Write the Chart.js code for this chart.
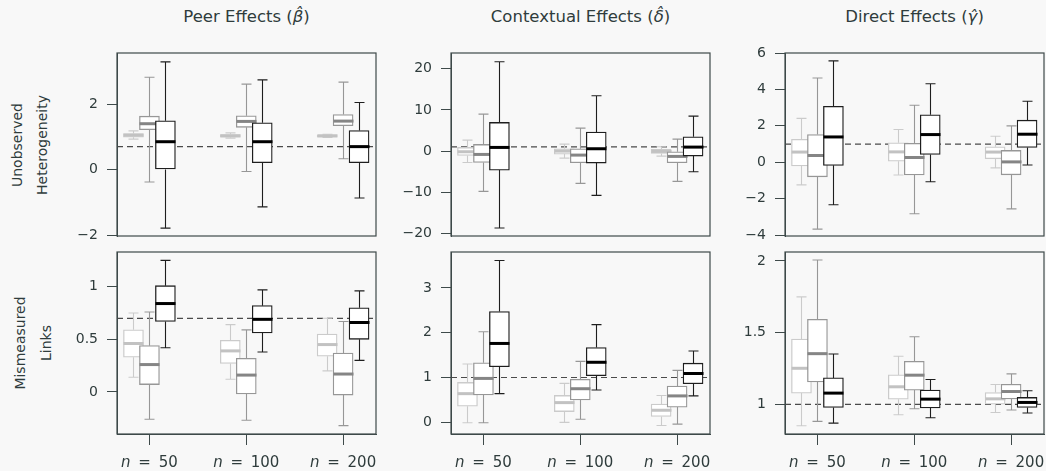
<!DOCTYPE html>
<html>
<head>
<meta charset="utf-8">
<script src="https://cdn.jsdelivr.net/npm/chart.js@4.4.0/dist/chart.umd.min.js"></script>
<style>
  body {
    margin: 0;
    width: 1046px;
    height: 471px;
    overflow: hidden;
    position: relative;
    background: #f8f8f8;
    color: #2f3c3c;
    font-family: "DejaVu Sans", sans-serif;
  }
  canvas { position: absolute; }
  .col-title {
    position: absolute;
    top: 7px;
    width: 259px;
    text-align: center;
    font-family: "DejaVu Sans", sans-serif;
    font-size: 16.5px;
  }
  .row-title {
    position: absolute;
    width: 200px;
    text-align: center;
    font-size: 14px;
    transform: rotate(-90deg);
  }
</style>
</head>
<body>
<script>
const nValues = [50, 100, 200];
const colTitles = ["Peer Effects (<i>β̂</i>)", "Contextual Effects (<i>δ̂</i>)", "Direct Effects (<i>γ̂</i>)"];
const rowTitles = [["Unobserved", "Heterogeneity"], ["Mismeasured", "Links"]];
const trueValues = [0.7, 1, 1];

// [min, q1, median, q3, max] for n = 50, 100, 200
const peerHetLight = [[0.93, 0.99, 1.05, 1.10, 1.18], [0.96, 0.99, 1.03, 1.07, 1.12], [0.98, 0.99, 1.03, 1.06, 1.08]];
const peerHetMid = [[-0.38, 1.22, 1.40, 1.63, 2.82], [-0.06, 1.29, 1.47, 1.64, 2.61], [0.33, 1.34, 1.48, 1.68, 2.67]];
const peerHetDark = [[-1.79, 0.00, 0.85, 1.49, 3.29], [-1.14, 0.21, 0.85, 1.43, 2.74], [-0.87, 0.21, 0.70, 1.19, 2.05]];

const ctxHetLight = [[-2.75, -1.05, -0.16, 0.89, 2.67], [-1.70, -0.73, 0.0, 0.57, 1.70], [-1.21, -0.57, -0.08, 0.40, 1.05]];
const ctxHetMid = [[-9.78, -2.75, -0.81, 1.62, 8.97], [-7.84, -2.83, -0.97, 0.57, 5.58], [-7.35, -2.83, -1.29, -0.16, 2.91]];
const ctxHetDark = [[-18.67, -4.61, 0.89, 6.95, 21.66], [-10.75, -2.91, 0.57, 4.61, 13.41], [-5.01, -1.21, 0.97, 3.47, 8.48]];

const dirHetLight = [[-1.24, -0.20, 0.56, 1.26, 2.41], [-0.70, 0.06, 0.57, 1.07, 1.80], [-0.31, 0.20, 0.56, 0.85, 1.43]];
const dirHetMid = [[-3.67, -0.80, 0.37, 1.52, 4.63], [-2.83, -0.70, 0.26, 1.04, 3.13], [-2.56, -0.69, 0.02, 0.65, 2.00]];
const dirHetDark = [[-2.33, -0.17, 1.39, 3.07, 5.57], [-1.07, 0.43, 1.52, 2.61, 4.31], [-0.15, 0.81, 1.54, 2.31, 3.35]];

const peerLinkLight = [[0.14, 0.33, 0.46, 0.59, 0.75], [0.12, 0.27, 0.39, 0.49, 0.64], [0.20, 0.34, 0.45, 0.55, 0.70]];
const peerLinkMid = [[-0.26, 0.07, 0.26, 0.44, 0.76], [-0.27, -0.02, 0.16, 0.32, 0.59], [-0.32, -0.03, 0.17, 0.37, 0.67]];
const peerLinkDark = [[0.42, 0.67, 0.84, 1.01, 1.25], [0.38, 0.56, 0.69, 0.82, 0.97], [0.30, 0.50, 0.66, 0.80, 0.96]];

const ctxLinkLight = [[-0.01, 0.36, 0.64, 0.89, 1.30], [0.0, 0.24, 0.44, 0.60, 0.87], [-0.07, 0.13, 0.27, 0.41, 0.60]];
const ctxLinkMid = [[-0.01, 0.61, 0.98, 1.33, 2.02], [0.07, 0.50, 0.75, 0.96, 1.36], [-0.04, 0.34, 0.59, 0.81, 1.16]];
const ctxLinkDark = [[0.64, 1.24, 1.76, 2.47, 3.61], [0.72, 1.04, 1.34, 1.67, 2.18], [0.59, 0.86, 1.09, 1.32, 1.59]];

const dirLinkLight = [[0.852, 1.079, 1.252, 1.456, 1.75], [0.928, 1.037, 1.123, 1.206, 1.336], [0.944, 1.002, 1.039, 1.083, 1.139]];
const dirLinkMid = [[0.882, 1.157, 1.354, 1.593, 2.007], [0.970, 1.10, 1.204, 1.301, 1.472], [0.961, 1.039, 1.09, 1.141, 1.213]];
const dirLinkDark = [[0.870, 0.979, 1.079, 1.185, 1.352], [0.907, 0.975, 1.037, 1.10, 1.174], [0.94, 0.979, 1.014, 1.049, 1.095]];

// y tick labels per panel (row-major)
const yTicks = [[-2, 0, 2], [-20, -10, 0, 10, 20], [-4, -2, 0, 2, 4, 6],
                [0, 0.5, 1], [0, 1, 2, 3], [1, 1.5, 2]];
const yMins = [-2.03, -20.6, -4.05, -0.40, -0.26, 0.794];
const yMaxs = [3.56, 23.8, 6.0, 1.33, 3.80, 2.0625];

const panelSeries = [
  [peerHetLight, peerHetMid, peerHetDark],
  [ctxHetLight, ctxHetMid, ctxHetDark],
  [dirHetLight, dirHetMid, dirHetDark],
  [peerLinkLight, peerLinkMid, peerLinkDark],
  [ctxLinkLight, ctxLinkMid, ctxLinkDark],
  [dirLinkLight, dirLinkMid, dirLinkDark]
];

// styling
const textColor = "#2f3c3c";
const frameColor = "#3e4a4a";
const seriesStyles = [
  { border: "#cbcbcb", median: "#c2c2c2", offset: -0.165 },
  { border: "#979797", median: "#858585", offset: 0 },
  { border: "#1e1e1e", median: "#000000", offset: 0.165 }
];
const boxWidth = 20;
const xMin = 0.665, xMax = 3.34;
const plotLefts = [117, 451, 785];
const plotTops = [53, 252];
const plotHeights = [183, 182];
const plotWidth = 259;
const axisWidth = 70;

colTitles.forEach((t, c) => {
  const d = document.createElement("div");
  d.className = "col-title";
  d.style.left = plotLefts[c] + "px";
  d.innerHTML = t;
  document.body.appendChild(d);
});

const rowCenters = [[29.5, 145], [33, 343]];
const rowLineHeights = [25, 26];
rowTitles.forEach((lines, r) => {
  const d = document.createElement("div");
  d.className = "row-title";
  d.style.lineHeight = rowLineHeights[r] + "px";
  d.style.height = 2 * rowLineHeights[r] + "px";
  d.style.left = (rowCenters[r][0] - 100) + "px";
  d.style.top = (rowCenters[r][1] - rowLineHeights[r]) + "px";
  d.innerHTML = lines.join("<br>");
  document.body.appendChild(d);
});

function fmt(v) {
  return v < 0 ? "\u2212" + Math.abs(v) : String(v);
}

// whiskers, caps and medians drawn around each dataset's boxes
const boxParts = {
  id: "boxParts",
  afterDatasetDraw(chart, args) {
    const ds = chart.data.datasets[args.index];
    if (!ds.stats) return;
    const { ctx } = chart;
    const x = chart.scales.x, y = chart.scales.y;
    const half = boxWidth / 2;
    ctx.save();
    ds.stats.forEach((s, i) => {
      const cx = Math.round(x.getPixelForValue(ds.data[i].x)) + 0.5;
      const yMinP = y.getPixelForValue(s[0]);
      const yQ1 = y.getPixelForValue(s[1]);
      const yMed = y.getPixelForValue(s[2]);
      const yQ3 = y.getPixelForValue(s[3]);
      const yMaxP = y.getPixelForValue(s[4]);
      ctx.strokeStyle = ds.borderColor;
      ctx.lineWidth = 1.1;
      ctx.beginPath();
      ctx.moveTo(cx, yQ3); ctx.lineTo(cx, yMaxP);
      ctx.moveTo(cx, yQ1); ctx.lineTo(cx, yMinP);
      ctx.moveTo(cx - half / 2, yMaxP); ctx.lineTo(cx + half / 2, yMaxP);
      ctx.moveTo(cx - half / 2, yMinP); ctx.lineTo(cx + half / 2, yMinP);
      ctx.stroke();
      ctx.strokeStyle = ds.medianColor;
      ctx.lineWidth = 3;
      ctx.beginPath();
      ctx.moveTo(cx - half, yMed); ctx.lineTo(cx + half, yMed);
      ctx.stroke();
    });
    ctx.restore();
  }
};

const frame = {
  id: "frame",
  afterDatasetsDraw(chart) {
    const { ctx, chartArea: a } = chart;
    ctx.save();
    ctx.strokeStyle = frameColor;
    ctx.lineWidth = 1.2;
    ctx.strokeRect(a.left, a.top, a.right - a.left, a.bottom - a.top);
    ctx.restore();
  }
};

const nLabels = {
  id: "nLabels",
  afterDraw(chart) {
    if (!chart.options.showN) return;
    const { ctx } = chart;
    const x = chart.scales.x;
    const base = chart.chartArea.bottom + 33;
    ctx.save();
    ctx.fillStyle = textColor;
    ctx.textBaseline = "alphabetic";
    nValues.forEach((n, i) => {
      const px = x.getPixelForValue(i + 1);
      ctx.font = "italic 15px 'DejaVu Sans'";
      const w1 = ctx.measureText("n").width;
      ctx.font = "15px 'DejaVu Sans'";
      const rest = " \u2009=\u2009 " + n;
      const w2 = ctx.measureText(rest).width;
      const left = px - (w1 + w2) / 2;
      ctx.font = "italic 15px 'DejaVu Sans'";
      ctx.fillText("n", left, base);
      ctx.font = "15px 'DejaVu Sans'";
      ctx.fillText(rest, left + w1, base);
    });
    ctx.restore();
  }
};

panelSeries.forEach((series, p) => {
  const r = Math.floor(p / 3), c = p % 3;
  const bottomRow = r === 1;
  const canvas = document.createElement("canvas");
  const w = axisWidth + plotWidth + 2;
  const h = 10 + plotHeights[r] + (bottomRow ? 36 : 10);
  canvas.width = w; canvas.height = h;
  canvas.style.width = w + "px"; canvas.style.height = h + "px";
  canvas.style.left = (plotLefts[c] - axisWidth) + "px";
  canvas.style.top = (plotTops[r] - 10) + "px";
  document.body.appendChild(canvas);

  const datasets = series.map((stats, k) => ({
    type: "bar",
    data: stats.map((s, i) => ({ x: i + 1 + seriesStyles[k].offset, y: [s[1], s[3]] })),
    stats: stats,
    backgroundColor: "#ffffff",
    borderColor: seriesStyles[k].border,
    medianColor: seriesStyles[k].median,
    borderWidth: 1.3,
    borderSkipped: false,
    barThickness: boxWidth,
    grouped: false,
    order: 3 - k
  }));
  datasets.push({
    type: "line",
    data: [{ x: xMin, y: trueValues[c] }, { x: xMax, y: trueValues[c] }],
    borderColor: "#4a4a4a",
    borderWidth: 1.2,
    borderDash: [6, 4],
    pointRadius: 0,
    order: 10
  });

  new Chart(canvas, {
    type: "bar",
    data: { datasets },
    plugins: [boxParts, frame, nLabels],
    options: {
      responsive: false,
      animation: false,
      devicePixelRatio: 1,
      showN: bottomRow,
      layout: {
        autoPadding: false,
        padding: { left: 0, right: 2, top: 10, bottom: bottomRow ? 0 : 10 }
      },
      plugins: { legend: { display: false }, tooltip: { enabled: false } },
      scales: {
        x: {
          type: "linear",
          display: bottomRow,
          min: xMin,
          max: xMax,
          offset: false,
          afterBuildTicks: (scale) => { scale.ticks = nValues.map((n, i) => ({ value: i + 1 })); },
          afterFit: (scale) => {
            scale.height = bottomRow ? 36 : 0;
            scale.paddingLeft = 0; scale.paddingRight = 0;
          },
          grid: { drawOnChartArea: false, drawTicks: true, tickLength: 11, color: frameColor, offset: false },
          border: { display: true, color: frameColor },
          ticks: { display: false }
        },
        y: {
          type: "linear",
          min: yMins[p],
          max: yMaxs[p],
          beginAtZero: false,
          afterBuildTicks: (scale) => { scale.ticks = yTicks[p].map(v => ({ value: v })); },
          afterFit: (scale) => {
            scale.width = axisWidth;
            scale.paddingTop = 0; scale.paddingBottom = 0;
          },
          grid: { drawOnChartArea: false, drawTicks: true, tickLength: 10, color: frameColor },
          border: { display: true, color: frameColor },
          ticks: {
            color: textColor,
            padding: 9,
            font: { family: "DejaVu Sans", size: 14 },
            callback: (v) => fmt(v)
          }
        }
      }
    }
  });
});
</script>
</body>
</html>
